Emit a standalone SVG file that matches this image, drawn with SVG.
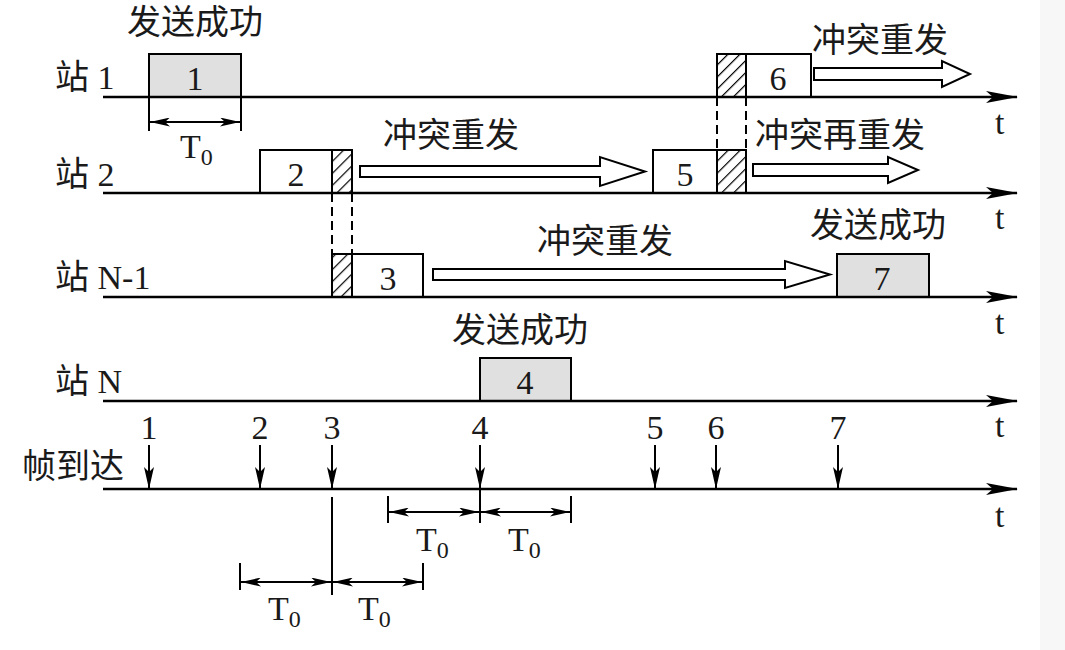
<svg xmlns="http://www.w3.org/2000/svg" width="1065" height="650" viewBox="0 0 1065 650">
<style>
.ax{stroke:#000;stroke-width:2.6;fill:none}
.bx{stroke:#000;stroke-width:2;fill:#fff}
.gr{fill:#e0e0e0}
.ht{stroke:#000;stroke-width:2;fill:url(#hatch)}
.dash{stroke:#000;stroke-width:2;stroke-dasharray:9 5;fill:none}
.tk{stroke:#000;stroke-width:2;fill:none}
.dim{stroke:#000;stroke-width:2;fill:none;marker-start:url(#dm);marker-end:url(#dm)}
.arr{stroke:#000;stroke-width:2;fill:none;marker-end:url(#am)}
.hol{stroke:#000;stroke-width:2;fill:#fff}
.cn{font-family:"Liberation Serif","Noto Sans CJK SC",serif;font-size:34px;fill:#1a1a1a}
.lt{font-family:"Liberation Serif","Noto Sans CJK SC",serif;font-size:34px;fill:#1a1a1a}
.sub{font-size:24px}
</style>
<defs>
<pattern id="hatch" patternUnits="userSpaceOnUse" width="8.5" height="8.5" patternTransform="rotate(45)">
<rect width="8.5" height="8.5" fill="#fff"/>
<line x1="0" y1="0" x2="0" y2="8.5" stroke="#000" stroke-width="2.4"/>
</pattern>
<marker id="axm" markerUnits="userSpaceOnUse" viewBox="0 0 32 12" markerWidth="32" markerHeight="12" refX="31" refY="6" orient="auto">
<path d="M0,0 L32,6 L0,12 L7,6 z" fill="#000"/>
</marker>
<marker id="am" markerUnits="userSpaceOnUse" viewBox="0 0 22 10" markerWidth="22" markerHeight="10" refX="22" refY="5" orient="auto">
<path d="M0,0 L22,5 L0,10 L5,5 z" fill="#000"/>
</marker>
<marker id="dm" markerUnits="userSpaceOnUse" viewBox="0 0 20 9" markerWidth="20" markerHeight="9" refX="20" refY="4.5" orient="auto-start-reverse">
<path d="M0,0 L20,4.5 L0,9 L5,4.5 z" fill="#000"/>
</marker>
</defs>
<rect width="1065" height="650" fill="#fff"/>
<rect x="1040" y="0" width="25" height="650" fill="#f7f7f7"/>

<!-- row labels -->
<g id="labels">
<text class="cn" x="55" y="89">站 1</text>
<text class="cn" x="55" y="186">站 2</text>
<text class="cn" x="55" y="289">站 N-1</text>
<text class="cn" x="55" y="393">站 N</text>
<text class="cn" x="22" y="478">帧到达</text>
<text class="lt" x="995" y="134">t</text>
<text class="lt" x="995" y="229">t</text>
<text class="lt" x="995" y="334">t</text>
<text class="lt" x="995" y="437">t</text>
<text class="lt" x="995" y="527">t</text>
<text class="cn" x="127" y="34">发送成功</text>
<text class="cn" x="383" y="147">冲突重发</text>
<text class="cn" x="537" y="253">冲突重发</text>
<text class="cn" x="452" y="342">发送成功</text>
<text class="cn" x="810" y="237">发送成功</text>
<text class="cn" x="812" y="52">冲突重发</text>
<text class="cn" x="755" y="147">冲突再重发</text>
</g>

<g id="frame1">
<rect class="bx gr" x="149" y="54" width="92" height="43"/>
<text class="lt" x="195" y="90" text-anchor="middle">1</text>
</g>
<g id="frame2">
<rect class="bx" x="260" y="150" width="92" height="43"/>
<rect class="ht" x="332" y="150" width="20" height="43"/>
<text class="lt" x="296" y="186" text-anchor="middle">2</text>
</g>
<g id="frame3">
<rect class="bx" x="332" y="254" width="91" height="43"/>
<rect class="ht" x="332" y="254" width="20" height="43"/>
<text class="lt" x="388" y="290" text-anchor="middle">3</text>
</g>
<g id="frame4">
<rect class="bx gr" x="480" y="358" width="91" height="43"/>
<text class="lt" x="525" y="394" text-anchor="middle">4</text>
</g>
<g id="frame5">
<rect class="bx" x="653" y="150" width="93" height="43"/>
<rect class="ht" x="717" y="150" width="29" height="43"/>
<text class="lt" x="685" y="186" text-anchor="middle">5</text>
</g>
<g id="frame6">
<rect class="bx" x="717" y="54" width="94" height="43"/>
<rect class="ht" x="717" y="54" width="29" height="43"/>
<text class="lt" x="778" y="90" text-anchor="middle">6</text>
</g>
<g id="frame7">
<rect class="bx gr" x="837" y="254" width="92" height="43"/>
<text class="lt" x="882" y="290" text-anchor="middle">7</text>
</g>

<g id="connectors">
<!-- time axes -->
<line class="ax" x1="103" y1="97" x2="1017" y2="97" marker-end="url(#axm)"/>
<line class="ax" x1="103" y1="193" x2="1017" y2="193" marker-end="url(#axm)"/>
<line class="ax" x1="103" y1="297" x2="1017" y2="297" marker-end="url(#axm)"/>
<line class="ax" x1="103" y1="401" x2="1017" y2="401" marker-end="url(#axm)"/>
<line class="ax" x1="103" y1="489" x2="1017" y2="489" marker-end="url(#axm)"/>
<!-- dashed collision lines -->
<line class="dash" x1="332" y1="193" x2="332" y2="254"/>
<line class="dash" x1="352" y1="193" x2="352" y2="254"/>
<line class="dash" x1="717" y1="97" x2="717" y2="150"/>
<line class="dash" x1="746" y1="97" x2="746" y2="150"/>
<!-- hollow retransmission arrows -->
<polygon class="hol" points="360,166 600,166 600,157 645,171.5 600,186 600,177 360,177"/>
<polygon class="hol" points="433,269 785,269 785,261 830,274.5 785,288 785,280 433,280"/>
<polygon class="hol" points="814,68 942,68 942,61 970,74 942,87 942,80 814,80"/>
<polygon class="hol" points="753,164 888,164 888,157 918,170 888,183 888,176 753,176"/>
<!-- frame arrivals -->
<line class="arr" x1="149" y1="445" x2="149" y2="489"/>
<line class="arr" x1="260" y1="445" x2="260" y2="489"/>
<line class="arr" x1="332" y1="445" x2="332" y2="489"/>
<line class="arr" x1="480" y1="445" x2="480" y2="489"/>
<line class="arr" x1="655" y1="445" x2="655" y2="489"/>
<line class="arr" x1="716" y1="445" x2="716" y2="489"/>
<line class="arr" x1="838" y1="445" x2="838" y2="489"/>
<text class="lt" x="149" y="439" text-anchor="middle">1</text>
<text class="lt" x="260" y="439" text-anchor="middle">2</text>
<text class="lt" x="332" y="439" text-anchor="middle">3</text>
<text class="lt" x="480" y="439" text-anchor="middle">4</text>
<text class="lt" x="655" y="439" text-anchor="middle">5</text>
<text class="lt" x="716" y="439" text-anchor="middle">6</text>
<text class="lt" x="838" y="439" text-anchor="middle">7</text>
<!-- T0 under frame 1 -->
<line class="tk" x1="149" y1="97" x2="149" y2="131"/>
<line class="tk" x1="241" y1="97" x2="241" y2="131"/>
<line class="dim" x1="150" y1="122" x2="240" y2="122"/>
<text class="lt" x="180" y="158">T<tspan class="sub" dy="7">0</tspan></text>
<!-- middle T0s -->
<line class="tk" x1="388" y1="496" x2="388" y2="523"/>
<line class="tk" x1="480" y1="489" x2="480" y2="523"/>
<line class="tk" x1="571" y1="496" x2="571" y2="523"/>
<line class="dim" x1="389" y1="512" x2="479" y2="512"/>
<line class="dim" x1="481" y1="512" x2="570" y2="512"/>
<text class="lt" x="416" y="551">T<tspan class="sub" dy="7">0</tspan></text>
<text class="lt" x="508" y="551">T<tspan class="sub" dy="7">0</tspan></text>
<!-- bottom T0s -->
<line class="tk" x1="332" y1="497" x2="332" y2="595"/>
<line class="tk" x1="240" y1="563" x2="240" y2="590"/>
<line class="tk" x1="423" y1="563" x2="423" y2="590"/>
<line class="dim" x1="241" y1="582" x2="331" y2="582"/>
<line class="dim" x1="333" y1="582" x2="422" y2="582"/>
<text class="lt" x="268" y="620">T<tspan class="sub" dy="7">0</tspan></text>
<text class="lt" x="358" y="620">T<tspan class="sub" dy="7">0</tspan></text>
</g>
</svg>
